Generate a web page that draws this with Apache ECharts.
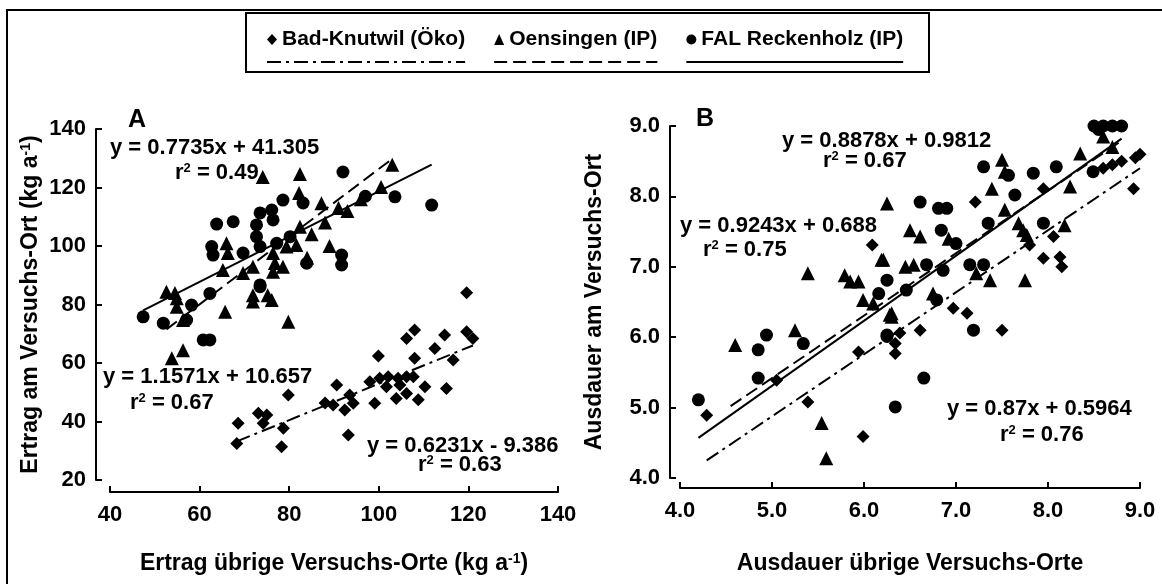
<!DOCTYPE html>
<html><head><meta charset="utf-8">
<script src="https://cdn.jsdelivr.net/npm/echarts@6/dist/echarts.min.js"></script>
<style>html,body{margin:0;padding:0;background:#fff}#c{width:1162px;height:584px}</style>
</head><body><div id="c"></div>
<script>
// ---- Panel A data (Ertrag, kg a-1) ----
const aKnutwil = [[79.8,49.1],[68.6,39.4],[68.3,32.5],[73.1,42.8],[75,42.2],[74.2,39.4],[78.7,37.7],[78.3,31.4],
 [119.6,84],[108,71.3],[106.2,68.4],[114.7,69.6],[119.6,70.7],[121,68.4],[112.5,65],[108,61.6],[116.6,61],[99.9,62.4],
 [90.6,52.5],[98,53.6],[100.2,54.8],[102.1,55.3],[104.3,54.8],[106.2,55.3],[107.7,55.3],[101.7,51.9],[104.7,52.5],
 [110.3,51.9],[115.1,51.3],[93.5,49.1],[94.3,46.2],[89.8,45.6],[92.4,43.9],[99.1,46.2],[103.9,47.9],[106.2,49.6],
 [108.8,47.4],[93.2,35.4],[88,46.3]];
const aOensingen = [[74.1,123.6],[82.4,124.6],[82.2,118.1],[87.2,114.6],[66,100.9],[66.3,97.6],[79.4,99.8],[82.4,106.6],
 [81.6,100.3],[76.4,97.6],[76.8,94.2],[78.6,92.9],[71.9,92.9],[69.7,90.8],[76.4,91.2],[65.2,91.8],[52.6,84.4],[54.5,83.9],
 [71.9,83.2],[75.2,83.2],[54.9,82.1],[54.9,79.2],[65.7,77.5],[71.9,81],[76.1,81.5],[79.8,74.1],[56.3,74.7],[56.3,64.4],
 [53.8,61.6],[103,127.8],[100.5,120.2],[96,116],[91,113],[88,108],[93,112],[85,104],[89,100],[84,96]];
const aReckenholz = [[78.6,115.7],[83.1,114.7],[63.8,107.5],[67.5,108.3],[73.5,111.3],[76.1,112.3],[76.4,108.9],[72.7,107.2],
 [72.7,103.2],[62.7,99.8],[63,96.9],[69.7,97.6],[77.2,100.9],[80.2,103.2],[73.5,99.8],[83.9,94.1],[73.5,86.7],[47.4,75.8],
 [51.9,73.6],[58.2,79.8],[62.3,83.8],[57.1,74.7],[73.5,86.1],[60.8,67.9],[62.3,67.9],[91.7,96.9],[91.7,93.5],
 [92,125.3],[97,117],[103.6,116.8],[111.8,114]];
const aKnutwilTrend = [[68.3,33.2],[121,66.0]];
const aOensingenTrend = [[52.6,71.5],[103,129.8]];
const aReckenholzTrend = [[47.4,78.0],[111.8,127.8]];
// ---- Panel B data (Ausdauer) ----
const bKnutwil = [[6.09,7.31],[4.29,4.89],[5.05,5.39],[5.39,5.08],[5.94,5.79],[5.99,4.59],[6.34,5.91],[6.34,5.77],
 [7.21,7.92],[7.95,8.11],[8.06,7.43],[7.80,7.31],[7.95,7.12],[8.13,7.14],[8.15,7.0],[6.97,6.41],[7.12,6.34],[7.5,6.10],
 [6.61,6.10],[6.39,6.06],[8.93,8.11],[8.7,8.45],[8.8,8.5],[8.95,8.55],[9.0,8.6],[8.6,8.4]];
const bOensingen = [[6.25,7.90],[6.19,7.10],[5.39,6.91],[5.79,6.88],[5.85,6.79],[5.94,6.79],[5.99,6.53],[6.10,6.48],
 [6.28,6.32],[5.25,6.10],[4.6,5.89],[5.54,4.78],[5.59,4.28],[6.30,6.29],[8.35,8.61],[7.5,8.52],[7.53,8.35],[7.39,8.11],
 [8.24,8.14],[7.53,7.81],[7.68,7.62],[7.73,7.52],[7.77,7.45],[8.18,7.59],[7.75,6.81],[6.5,7.52],[6.61,7.43],[6.92,7.40],
 [6.21,7.10],[6.45,7.0],[6.54,7.03],[7.37,6.81],[7.22,6.91],[6.75,6.62],[6.30,6.34],[8.6,8.85],[8.7,8.7]];
const bReckenholz = [[6.25,6.81],[6.16,6.62],[6.25,6.03],[4.94,6.03],[4.2,5.11],[4.85,5.82],[4.85,5.42],[5.34,5.91],
 [6.25,6.01],[6.34,5.01],[8.5,9.0],[8.6,9.0],[8.7,9.0],[8.8,9.0],[8.55,8.95],[8.49,8.35],[7.30,8.42],[7.57,8.30],
 [7.84,8.33],[8.09,8.42],[7.64,8.02],[6.61,7.92],[6.81,7.83],[6.9,7.83],[7.35,7.62],[7.95,7.62],[6.84,7.52],[7.0,7.33],
 [6.68,7.03],[6.86,6.95],[7.15,7.03],[7.3,7.03],[6.46,6.67],[6.79,6.53],[7.19,6.10],[6.65,5.42]];
const bKnutwilTrend = [[4.29,4.25],[9.0,8.4]];
const bOensingenTrend = [[4.55,5.02],[8.8,8.79]];
const bReckenholzTrend = [[4.2,4.57],[8.8,8.82]];
const siteNames = ['Bad-Knutwil (Öko)','Oensingen (IP)','FAL Reckenholz (IP)'];
const aTicksX = [40,140,20], aTicksY = [20,140,20], bTicks = [4,9,1];
const equations = [
 ['y = 0.7735x + 41.305','0.49'],['y = 1.1571x + 10.657','0.67'],['y = 0.6231x - 9.386','0.63'],
 ['y = 0.8878x + 0.9812','0.67'],['y = 0.9243x + 0.688','0.75'],['y = 0.87x + 0.5964','0.76']];

const FF = '"Liberation Sans", Arial, sans-serif';
const chart = echarts.init(document.getElementById('c'));
const bold = (s) => ({fontFamily: FF, fontWeight: 'bold', fontSize: s, color: '#000'});
const symbols = ['diamond','triangle','circle'];
const symSize = [13,14,13];
const lineTypes = [[14,5,3,5],[13,6],'solid'];

function axis(min, max, interval, offset, fmt, extra) {
  return Object.assign({
    type: 'value', min, max, interval, offset,
    axisLine: {show: true, onZero: false, lineStyle: {color: '#000', width: 2}},
    axisTick: {show: true, inside: true, length: 6, lineStyle: {color: '#000', width: 2}},
    splitLine: {show: false},
    axisLabel: Object.assign(bold(22), {formatter: fmt, margin: 10}),
    nameTextStyle: bold(23)
  }, extra);
}
const richT = {a: bold(23), s: Object.assign(bold(14), {verticalAlign: 'top'})};
const richE = {a: bold(22), s: Object.assign(bold(13), {verticalAlign: 'top'})};

const series = [];
const A = [aKnutwil, aOensingen, aReckenholz], B = [bKnutwil, bOensingen, bReckenholz];
const AT = [aKnutwilTrend, aOensingenTrend, aReckenholzTrend], BT = [bKnutwilTrend, bOensingenTrend, bReckenholzTrend];
[[A, AT, 0], [B, BT, 1]].forEach(([pts, tr, gi]) => {
  for (let i = 0; i < 3; i++) {
    series.push({type: 'scatter', name: siteNames[i], xAxisIndex: gi, yAxisIndex: gi, data: pts[i],
      symbol: symbols[i], symbolSize: symSize[i], itemStyle: {color: '#000', opacity: 1}, z: 2, silent: true});
  }
  for (let i = 0; i < 3; i++) {
    series.push({type: 'line', xAxisIndex: gi, yAxisIndex: gi, data: tr[i], symbol: 'none', z: 3,
      lineStyle: {color: '#000', width: 2, type: lineTypes[i]}, silent: true});
  }
});

const cv = document.createElement('canvas').getContext('2d');
cv.font = 'bold 21px ' + FF;
const iconW = 10, iconGap = 5, itemGap = 29;
const widths = siteNames.map(n => iconW + iconGap + cv.measureText(n).width);
const total = widths.reduce((a,b)=>a+b,0) + itemGap*2;
const legLeft = Math.round(585 - total/2);
const legendLines = [];
let cx = legLeft;
for (let i = 0; i < 3; i++) {
  legendLines.push({type: 'line', shape: {x1: cx, y1: 62, x2: cx + widths[i], y2: 62},
    style: {stroke: '#000', lineWidth: 2, lineDash: lineTypes[i] === 'solid' ? null : lineTypes[i]}});
  cx += widths[i] + itemGap;
}

function eqText(x, y, s) { return {type: 'text', left: x, top: y, style: {text: s, font: 'bold 22px ' + FF, fill: '#000'}}; }
function r2Text(x, y, v) { return {type: 'text', left: x, top: y, style: {text: '{a|r}{s|2}{a| = ' + v + '}', rich: richE}}; }
const eqPos = [[110,137,175,162],[103,366,130,392],[367,435,418,454],[782,130,823,150],[680,215,703,239],[947,398,1000,424]];
const eqGraphics = [];
equations.forEach((e, i) => {
  const p = eqPos[i];
  eqGraphics.push(eqText(p[0], p[1], e[0]));
  eqGraphics.push(r2Text(p[2], p[3], e[1]));
});

chart.setOption({
  animation: false,
  backgroundColor: '#fff',
  grid: [{left: 110, top: 129, width: 448, height: 351}, {left: 680, top: 126, width: 460, height: 352}],
  xAxis: [
    axis(aTicksX[0], aTicksX[1], aTicksX[2], 12, v => v, {gridIndex: 0, axisLabel: Object.assign(bold(22), {margin: 12}),
      name: '{a|Ertrag übrige Versuchs-Orte (kg a}{s|-1}{a|)}', nameLocation: 'middle', nameGap: 60, nameTextStyle: {rich: richT}}),
    axis(bTicks[0], bTicks[1], bTicks[2], 10, v => v.toFixed(1), {gridIndex: 1,
      axisLabel: Object.assign(bold(22), {margin: 12, formatter: v => v.toFixed(1)}),
      name: 'Ausdauer übrige Versuchs-Orte', nameLocation: 'middle', nameGap: 64, nameTextStyle: bold(23)})
  ],
  yAxis: [
    axis(aTicksY[0], aTicksY[1], aTicksY[2], 14, v => v, {gridIndex: 0,
      name: '{a|Ertrag am Versuchs-Ort (kg a}{s|-1}{a|)}', nameLocation: 'middle', nameGap: 54, nameRotate: 90, nameTextStyle: {rich: richT}}),
    axis(bTicks[0], bTicks[1], bTicks[2], 10, v => v.toFixed(1), {gridIndex: 1,
      name: 'Ausdauer am Versuchs-Ort', nameLocation: 'middle', nameGap: 64, nameRotate: 90, nameTextStyle: bold(23)})
  ],
  legend: {data: siteNames, left: legLeft, top: 29, itemWidth: iconW, itemHeight: 11, itemGap: itemGap,
    padding: 0, textStyle: bold(21), selectedMode: false},
  series,
  graphic: [
    {type: 'rect', shape: {x: 7, y: 10, width: 1170, height: 600}, style: {fill: 'none', stroke: '#000', lineWidth: 2}, z: 100},
    {type: 'rect', shape: {x: 246, y: 13, width: 683, height: 59}, style: {fill: 'none', stroke: '#000', lineWidth: 2}, z: 100},
    ...legendLines,
    {type: 'text', left: 128, top: 108, style: {text: 'A', font: 'bold 25px ' + FF, fill: '#000'}},
    {type: 'text', left: 696, top: 107, style: {text: 'B', font: 'bold 25px ' + FF, fill: '#000'}},
    ...eqGraphics
  ]
});
</script></body></html>
